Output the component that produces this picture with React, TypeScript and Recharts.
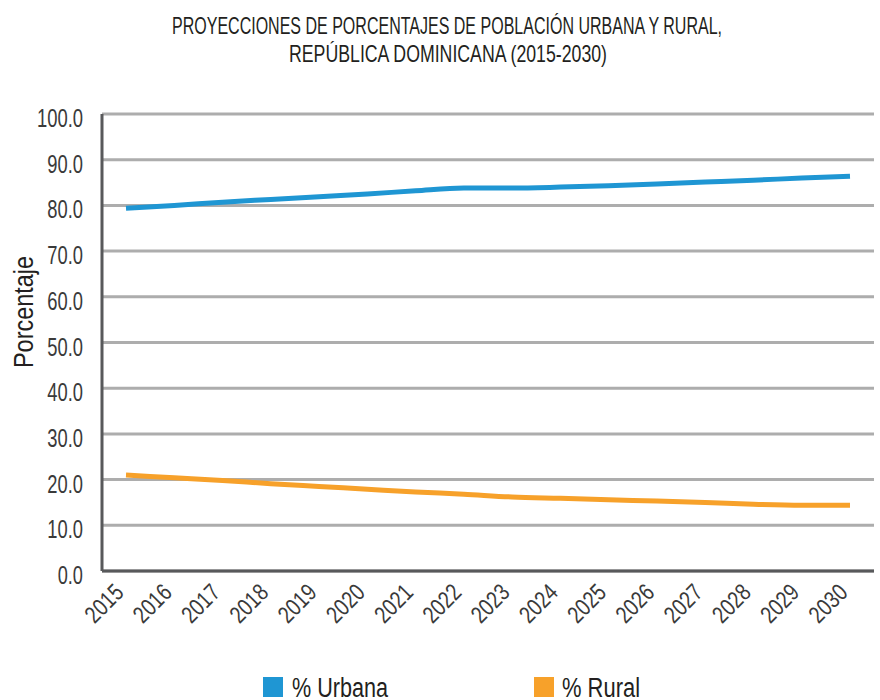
import { LineChart, Line, XAxis, YAxis, CartesianGrid } from "recharts";

const years = [
    "2015", "2016", "2017", "2018", "2019", "2020", "2021", "2022",
    "2023", "2024", "2025", "2026", "2027", "2028", "2029", "2030",
];
const urbana = [79.4, 80.0, 80.7, 81.3, 81.9, 82.5, 83.2, 83.8, 83.8, 84.0, 84.3, 84.7, 85.1, 85.5, 86.0, 86.4];
const rural = [21.0, 20.4, 19.8, 19.1, 18.5, 17.9, 17.3, 16.8, 16.2, 15.9, 15.6, 15.3, 15.0, 14.6, 14.4, 14.4];
const yTicks = [0, 10, 20, 30, 40, 50, 60, 70, 80, 90, 100];

const FONT = '"Liberation Sans", Arial, sans-serif';
const BLUE = "#1f96d3";
const ORANGE = "#f7a12a";
const TEXT = "#3a3a3a";
const DARK = "#231f20";

const data = years.map((y, i) => ({ year: y, urbana: urbana[i], rural: rural[i] }));

// condensed look: squeeze the glyphs to the widths measured on the reference
function YearTick({ x, y, payload }: any) {
    const ax = x - 1;
    const ay = y + 15;
    return (
        <text
            x={ax}
            y={ay}
            transform={`rotate(-45, ${ax}, ${ay})`}
            textAnchor="end"
            fontFamily={FONT}
            fontSize={24}
            fill={TEXT}
            textLength={43}
            lengthAdjust="spacingAndGlyphs"
        >
            {payload.value}
        </text>
    );
}

function ValueTick({ x, y, payload }: any) {
    const label = Number(payload.value).toFixed(1);
    const digits = label.replace(".", "").length;
    return (
        <text
            x={x}
            y={y + 13}
            textAnchor="end"
            fontFamily={FONT}
            fontSize={25}
            fill={TEXT}
            textLength={digits * 10.4 + 4.5}
            lengthAdjust="spacingAndGlyphs"
        >
            {label}
        </text>
    );
}

export default function App() {
    return (
        <div style={{ position: "absolute", left: 0, top: 0, width: 880, height: 700, background: "#fff", overflow: "hidden" }}>
            <div style={{ position: "absolute", left: 0, top: 0 }}>
                <LineChart
                    width={880}
                    height={700}
                    data={data}
                    margin={{ top: 114, right: 6, bottom: 0, left: 0 }}
                >
                    <CartesianGrid vertical={false} stroke="#adadad" strokeWidth={3} />
                    <XAxis
                        dataKey="year"
                        interval={0}
                        tick={<YearTick />}
                        tickLine={false}
                        axisLine={{ stroke: "#58595b", strokeWidth: 3 }}
                        padding={{ left: 24, right: 24 }}
                        height={129}
                    />
                    <YAxis
                        domain={[0, 100]}
                        ticks={yTicks}
                        tickLine={false}
                        axisLine={{ stroke: "#58595b", strokeWidth: 3 }}
                        tick={<ValueTick />}
                        tickMargin={13}
                        width={102}
                    />
                    <Line type="monotone" dataKey="urbana" stroke={BLUE} strokeWidth={5} dot={false} isAnimationActive={false} />
                    <Line type="monotone" dataKey="rural" stroke={ORANGE} strokeWidth={5} dot={false} isAnimationActive={false} />
                </LineChart>
            </div>

            {/* Title, axis title and legend */}
            <svg width={880} height={700} style={{ position: "absolute", left: 0, top: 0, pointerEvents: "none" }} fontFamily={FONT}>
                <text x={447} y={34} textAnchor="middle" fontSize={24} fill={DARK} textLength={550} lengthAdjust="spacingAndGlyphs">
                    PROYECCIONES DE PORCENTAJES DE POBLACIÓN URBANA Y RURAL,
                </text>
                <text x={448} y={62} textAnchor="middle" fontSize={24} fill={DARK} textLength={318} lengthAdjust="spacingAndGlyphs">
                    REPÚBLICA DOMINICANA (2015-2030)
                </text>
                <text
                    x={33}
                    y={312}
                    transform="rotate(-90, 33, 312)"
                    textAnchor="middle"
                    fontSize={27}
                    fill={DARK}
                    textLength={112}
                    lengthAdjust="spacingAndGlyphs"
                >
                    Porcentaje
                </text>

                <rect x={263} y={677} width={20} height={20} fill={BLUE} />
                <text x={292} y={697} fontSize={27} fill={DARK} textLength={96} lengthAdjust="spacingAndGlyphs">
                    % Urbana
                </text>
                <rect x={534} y={677} width={20} height={20} fill={ORANGE} />
                <text x={562} y={697} fontSize={27} fill={DARK} textLength={78} lengthAdjust="spacingAndGlyphs">
                    % Rural
                </text>
            </svg>
        </div>
    );
}
